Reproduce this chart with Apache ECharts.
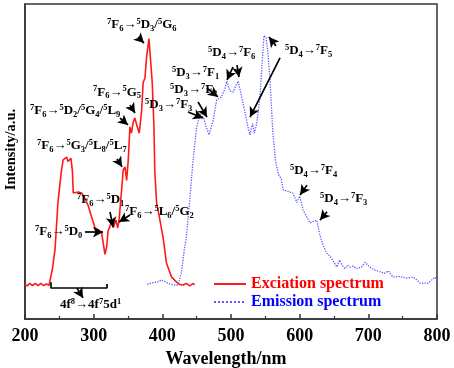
<!DOCTYPE html>
<html><head><meta charset="utf-8">
<script src="https://cdn.jsdelivr.net/npm/echarts@6/dist/echarts.min.js"></script>
<style>html,body{margin:0;padding:0;background:#fff}#c{width:454px;height:368px}</style>
</head><body><div id="c"></div>
<script>
// Excitation spectrum (red)
const exWl = [200,203,207,211,215,219,223,227,231,235,237,240,243.7,248,253,255.5,260.6,262.5,264.5,267,269,270.3,272.8,277.6,282.5,287,292,297,302,306.7,311.6,314,316.4,319,321,324,326,328.5,332.5,335,337,340.7,343,345.6,348,350.4,352.8,355,357.6,360,363.5,366.4,369.9,372,374.7,377,380.5,383,385.3,387.8,389,391.7,396.5,401,406,413.5,420.8,425,430,435,440,445,447];
const exVal = [11,10.5,11.3,10.6,11.3,10.6,11.3,10.6,11.1,10.7,11,16,22,37,47,50.5,51.4,50,49.5,51,47,40,39.4,40.3,40,38.4,36,32.4,29,28.3,27.3,24,20.5,23,28,29.5,31.4,29,31.4,28.9,31.4,41,47.3,48.3,44,50.5,61,59,62.5,63.8,61,59,66.3,75,76.5,83,89,88.5,75,61,47,36.8,31.4,26,17.8,13.3,11.7,11,10.8,11.3,10.5,11.3,10.8];
// Emission spectrum (blue)
const emWl = [378,385,392,399,405,412,418,423,428,432,435,440,443,446,450,455,460,464,468,474,479,486,491,494,498,503,507,510.5,515.5,520,524.6,527.5,531.5,534,537.4,542,545,548,551,554,557,561,565,569,573,576,583,590,596,600,605,610,615,620,625,629,634,639,644,648,654,658,662,666,670,673,678,683,690,695,702,710,717,724,729,736,745,756,765,770,775,787,793,797,800];
const emVal = [11,11.5,11.7,12.4,11.7,11,10.8,10.8,15,22,26,38,46,53,61,65,64,61,58.5,63,69.5,70.5,73,75.5,72.5,72,74,75.5,70.5,66,61,58.5,62,59,62,70,80,90,89.5,84,75,59,50,46,44.5,41,40.5,40,37,39,34.6,32.5,30.5,31,31.4,27,23.5,21,20,18.7,16.5,18.7,17,16,17,16.5,16.8,16,16.5,18,16.5,15.5,15,14.5,15.3,13.3,13.5,13,13.3,12.5,11.4,11.4,12.5,13.3,12];
const xTicks = [200,300,400,500,600,700,800];
const seriesNames = ['Exciation spectrum','Emission spectrum'];
// Annotations: rich text, anchor [wl, val] (left-middle)
const annTexts = [
  ['{sp|7}{m|F}{sb|6}{m|→}{sp|5}{m|D}{sb|3}{m|/}{sp|5}{m|G}{sb|6}', [319.4, 93.3]],
  ['{sp|7}{m|F}{sb|6}{m|→}{sp|5}{m|G}{sb|5}', [299, 72]],
  ['{sp|7}{m|F}{sb|6}{m|→}{sp|5}{m|D}{sb|2}{m|/}{sp|5}{m|G}{sb|4}{m|/}{sp|5}{m|L}{sb|9}', [207.3, 66]],
  ['{sp|7}{m|F}{sb|6}{m|→}{sp|5}{m|G}{sb|3}{m|/}{sp|5}{m|L}{sb|8}{m|/}{sp|5}{m|L}{sb|7}', [217.5, 54.9]],
  ['{sp|7}{m|F}{sb|6}{m|→}{sp|5}{m|D}{sb|1}', [275.7, 37.8]],
  ['{sp|7}{m|F}{sb|6}{m|→}{sp|5}{m|L}{sb|6}{m|/}{sp|5}{m|G}{sb|2}', [345.6, 34]],
  ['{sp|7}{m|F}{sb|6}{m|→}{sp|5}{m|D}{sb|0}', [214.6, 27.6]],
  ['{sp|5}{m|D}{sb|3}{m|→}{sp|7}{m|F}{sb|3}', [374.8, 67.9]],
  ['{sp|5}{m|D}{sb|3}{m|→}{sp|7}{m|F}{sb|2}', [411.2, 72.7]],
  ['{sp|5}{m|D}{sb|3}{m|→}{sp|7}{m|F}{sb|1}', [414, 78.1]],
  ['{sp|5}{m|D}{sb|4}{m|→}{sp|7}{m|F}{sb|6}', [466.5, 84.4]],
  ['{sp|5}{m|D}{sb|4}{m|→}{sp|7}{m|F}{sb|5}', [578.6, 85.1]],
  ['{sp|5}{m|D}{sb|4}{m|→}{sp|7}{m|F}{sb|4}', [585.9, 47]],
  ['{sp|5}{m|D}{sb|4}{m|→}{sp|7}{m|F}{sb|3}', [629.6, 38.1]],
  ['{m|4f}{sp|8}{m|→4f}{sp|7}{m|5d}{sp|1}', [251, 4.4]]
];
// Arrows: [from, to] in data coords
const arrows = [
  [[364.6,89.5],[373.3,87.6]],
  [[352.9,67.9],[360.2,65.4]],
  [[338.3,63.8],[350,61.6]],
  [[334,50.8],[341.3,48.3]],
  [[323.8,34],[328.2,29.2]],
  [[352.9,33],[336.9,30.8]],
  [[287.4,27.6],[313.6,27.6]],
  [[437.4,65.7],[459.2,63.8]],
  [[452,68.9],[465,64.1]],
  [[465,73.3],[481,70.5]],
  [[502.9,80],[494.2,75.9]],
  [[508.7,80.6],[511.6,76.8]],
  [[571.4,82.9],[527.7,64.1]],
  [[565.5,86.7],[555.3,89.5]],
  [[610.7,42.5],[600.5,39.4]],
  [[639.8,34],[629.6,31.4]],
  [[275.7,9.8],[284.5,6.7]]
];
// Bracket under the 4f-5d band
const bracket = [[237.4,11.7],[237.4,9.8],[319.4,9.8],[319.4,11.1]];

const SERIF = '"Liberation Serif","Times New Roman",serif';
const zip = (a,b) => a.map((v,i)=>[v,b[i]]);

const chart = echarts.init(document.getElementById('c'), null, {renderer:'canvas'});
const mlData = arrows.map(a => [{coord:a[0], symbol:'none'},{coord:a[1], symbol:'arrow'}]);
for (let i=0;i<bracket.length-1;i++){
  mlData.push([{coord:bracket[i], symbol:'none'},{coord:bracket[i+1], symbol:'none'}]);
}
chart.setOption({
  animation:false,
  backgroundColor:'#fff',
  grid:{left:25,right:17,top:4,bottom:49,show:true,borderColor:'#333',borderWidth:1.5,backgroundColor:'transparent',
    containLabel:false,outerBoundsMode:'none'},
  xAxis:{type:'value',min:200,max:800,interval:100,
    axisLine:{lineStyle:{color:'#333',width:1.5}},
    axisTick:{inside:true,length:5,lineStyle:{color:'#333',width:1.5}},
    minorTick:{show:true,splitNumber:2,length:3,lineStyle:{color:'#333',width:1.2}},
    splitLine:{show:false},
    axisLabel:{color:'#000',fontFamily:SERIF,fontWeight:'bold',fontSize:18,margin:8,
      formatter:v=>xTicks.includes(v)?String(v):''},
    name:'Wavelength/nm',nameLocation:'middle',nameGap:29,
    nameTextStyle:{color:'#000',fontFamily:SERIF,fontWeight:'bold',fontSize:18,padding:[0,10,0,0]}
  },
  yAxis:{type:'value',min:0,max:100,
    axisLine:{show:true,lineStyle:{color:'#333',width:1.5}},
    axisTick:{show:false},axisLabel:{show:false},splitLine:{show:false},
    name:'Intensity/a.u.',nameLocation:'middle',nameGap:6,
    nameTextStyle:{color:'#000',fontFamily:SERIF,fontWeight:'bold',fontSize:14.5,padding:[0,0,0,24]}
  },
  legend:{left:208,top:271,orient:'vertical',itemWidth:32,itemHeight:12,itemGap:2,
    itemStyle:{opacity:0},
    data:[{name:seriesNames[0],textStyle:{color:'#ff0000'}},{name:seriesNames[1],textStyle:{color:'#0000ff'}}],
    textStyle:{fontFamily:SERIF,fontWeight:'bold',fontSize:16}
  },
  series:[
    {name:seriesNames[0],type:'line',data:zip(exWl,exVal),symbol:'none',
      lineStyle:{color:'#ff1a1a',width:1.6},itemStyle:{color:'#ff1a1a'},z:3},
    {name:seriesNames[1],type:'line',data:zip(emWl,emVal),symbol:'none',
      lineStyle:{color:'#5a5aff',width:1.3,type:'dotted'},itemStyle:{color:'#5a5aff'},z:2},
    {name:'annotations',type:'line',data:[],silent:true,
      markLine:{silent:true,symbolSize:[8,10],precision:2,label:{show:false},
        lineStyle:{color:'#000',width:1.7,type:'solid'},emphasis:{disabled:true},
        data:mlData}}
  ]
});
const rich = {
  m:{fontFamily:SERIF,fontWeight:'bold',fontSize:13,lineHeight:16,color:'#000'},
  sp:{fontFamily:SERIF,fontWeight:'bold',fontSize:8.5,lineHeight:10,verticalAlign:'top',color:'#000'},
  sb:{fontFamily:SERIF,fontWeight:'bold',fontSize:8.5,lineHeight:10,verticalAlign:'bottom',color:'#000'}
};
const g = annTexts.map(t => {
  const p = chart.convertToPixel({gridIndex:0}, t[1]);
  return {type:'text',x:p[0],y:p[1],silent:true,z:10,
    style:{text:t[0],rich:rich,align:'left',verticalAlign:'middle',fill:'#000'}};
});
chart.setOption({graphic:g});
</script></body></html>
